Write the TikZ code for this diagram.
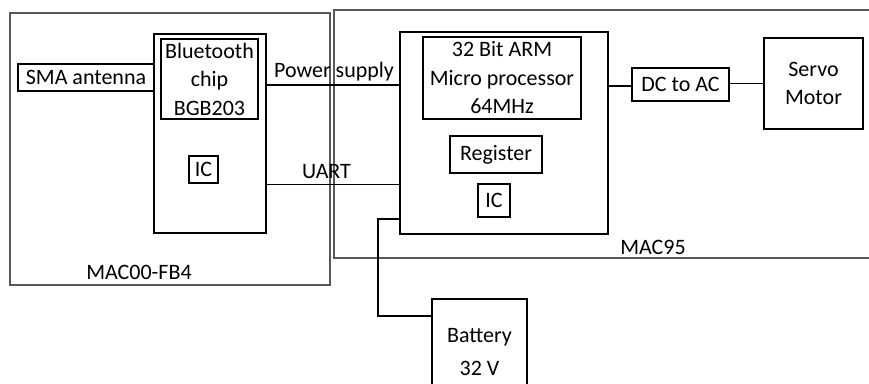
\documentclass[tikz,border=0pt]{standalone}
\usepackage{fontspec}
\setmainfont{Carlito}
\usetikzlibrary{calc}
\begin{document}
\begin{tikzpicture}[x=1pt,y=-1pt,
  font=\fontsize{22}{28.5}\selectfont,
  box/.style={draw=black,line width=1.8pt,inner sep=0pt,align=center},
  outer/.style={draw=black!65,line width=1.6pt,inner sep=0pt},
  wire/.style={draw=black,line width=1.8pt},
  lbl/.style={inner sep=0pt}]
\useasboundingbox (0,0) rectangle (869,383);
\clip (0,0) rectangle (869,383);
\fill[white] (0,0) rectangle (869,383);
% outer modules
\node[outer,minimum width=320,minimum height=272] (fb4) at (170,149) {};
\node[lbl] (fb4lbl) at (139,272) {MAC00-FB4};
\node[outer,minimum width=560,minimum height=248] (mac95) at (614,134) {};
\node[lbl] (mac95lbl) at (653,247) {MAC95};
% Bluetooth module
\node[box,minimum width=112,minimum height=199] (btmod) at (210,133.5) {};
\node[box,line width=1.2pt,minimum width=97,minimum height=80] (btchip) at (209.5,79) {Bluetooth\\chip\\BGB203};
\node[box,line width=1.2pt,minimum width=29,minimum height=27] (btic) at (203.5,169.5) {IC};
\node[box,minimum width=136,minimum height=27] (sma) at (86,77.5) {SMA antenna};
% MCU
\node[box,minimum width=208,minimum height=202] (mcu) at (504,133) {};
\node[box,minimum width=158,minimum height=82] (proc) at (502,78) {32 Bit ARM\\Micro processor\\64MHz};
\node[box,minimum width=92,minimum height=37] (reg) at (496,154.5) {Register};
\node[box,minimum width=32,minimum height=33] (mic) at (494,200.5) {IC};
% right side
\node[box,minimum width=97,minimum height=33] (dcac) at (680.5,84.5) {DC to AC};
\node[box,minimum width=99,minimum height=91] (servo) at (813.5,83.5) {Servo\\Motor};
% battery
\node[box,anchor=north,minimum width=95,inner xsep=0pt,inner ysep=29pt,
      font=\fontsize{22}{33}\selectfont] (bat) at (479.5,298) {Battery\\32 V};
% connectors
\draw[wire] (btmod.east |- 0,85) -- (mcu.west |- 0,85);
\node[lbl] (pslbl) at (334,72) {Power supply};
\draw[wire] (btmod.east |- 0,184.5) -- (mcu.west |- 0,184.5);
\node[lbl] (uartlbl) at (326.5,172) {UART};
\draw[wire] (mcu.east |- 0,86) -- (dcac.west |- 0,86);
\draw[wire] (dcac.east |- 0,83.5) -- (servo.west |- 0,83.5);
\coordinate (bend) at (378,219);
\draw[wire] (mcu.west |- bend) -- (bend) |- (bat.west |- 0,316);
\end{tikzpicture}
\end{document}
